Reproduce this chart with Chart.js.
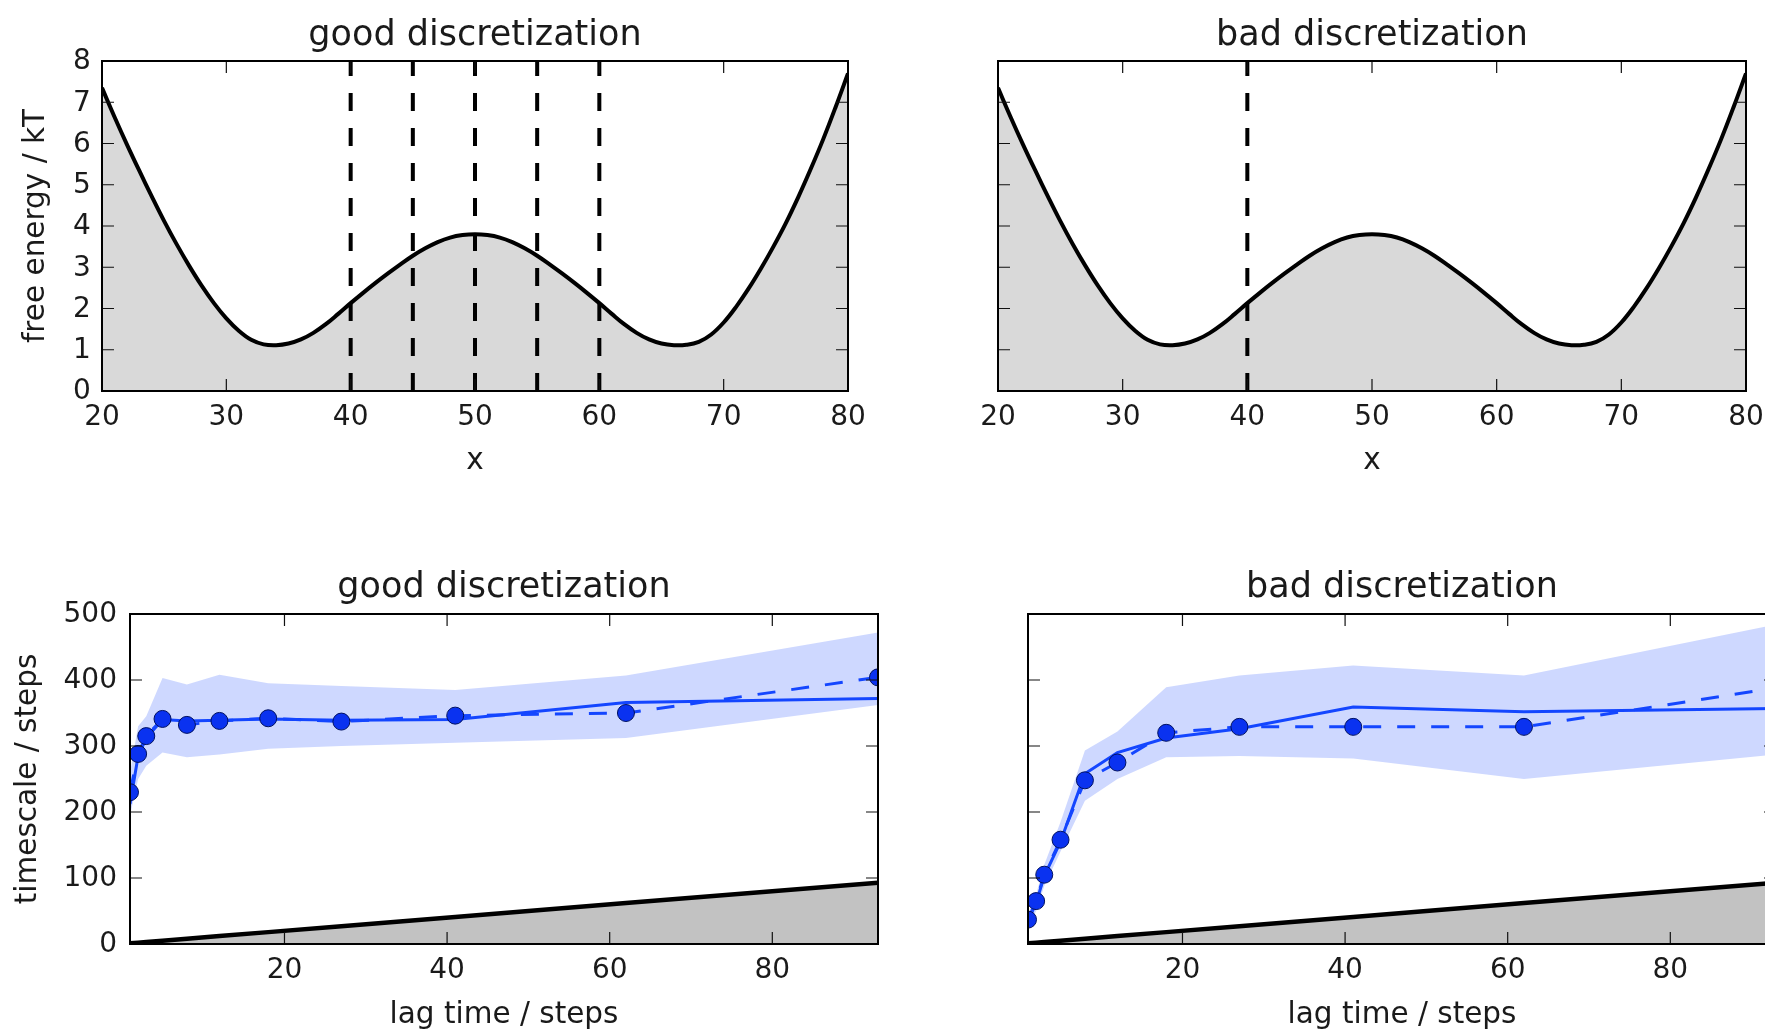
<!DOCTYPE html>
<html><head><meta charset="utf-8">
<script src="https://cdn.jsdelivr.net/npm/chart.js@4.4.1/dist/chart.umd.min.js"></script>
<style>
html,body{margin:0;padding:0;background:#fff;overflow:hidden;width:1765px;height:1029px;position:relative;}
canvas{position:absolute;display:block;}
</style></head><body>
<canvas id="c1" width="880" height="480" style="left:0;top:0"></canvas>
<canvas id="c2" width="900" height="480" style="left:880px;top:0"></canvas>
<canvas id="c3" width="900" height="560" style="left:0;top:480px"></canvas>
<canvas id="c4" width="900" height="560" style="left:900px;top:480px"></canvas>
<script>
// ---------- data ----------
const feX = [20,21,22,23,24,25,26,27,28,29,30,31,32,33,34,35,36,37,38,39,40,41,42,43,44,45,46,47,48,49,50,
             51,52,53,54,55,56,57,58,59,60,61,62,63,64,65,66,67,68,69,70,71,72,73,74,75,76,77,78,79,80];
const feY = [7.35,6.65,5.98,5.34,4.72,4.12,3.56,3.04,2.56,2.13,1.76,1.46,1.24,1.13,1.11,1.15,1.25,1.41,1.62,1.87,2.13,
             2.38,2.62,2.85,3.07,3.28,3.46,3.61,3.72,3.78,3.80,3.78,3.72,3.61,3.46,3.28,3.07,2.85,2.62,2.38,2.13,
             1.87,1.62,1.41,1.25,1.15,1.11,1.12,1.19,1.37,1.66,2.04,2.48,2.97,3.50,4.07,4.70,5.38,6.10,6.88,7.70];
const goodCuts = [40, 45, 50, 55, 60];
const badCuts = [40];
const feXTicks = [20, 30, 40, 50, 60, 70, 80];
const feYTicks = [0, 1, 2, 3, 4, 5, 6, 7, 8];

const lags = [1, 2, 3, 5, 8, 12, 18, 27, 41, 62, 93];
const goodEst   = [230, 288, 315, 341, 332, 338, 342, 337, 346, 350, 404];
const goodMean  = [212, 285, 312, 340, 338, 339, 341, 339, 340, 366, 372];
const goodUpper = [260, 330, 345, 403, 393, 408, 395, 391, 385, 407, 472];
const goodLower = [195, 250, 270, 290, 283, 287, 296, 300, 305, 312, 362];
const badEst    = [37, 65, 105, 158, 248, 275, 320, 329, 329, 329, 388];
const badMean   = [35, 62, 103, 155, 258, 290, 312, 326, 359, 352, 357];
const badUpper  = [45, 75, 120, 185, 293, 322, 389, 407, 422, 407, 484];
const badLower  = [25, 50, 88, 140, 217, 250, 283, 285, 281, 250, 287];
const lagXTicks = [20, 40, 60, 80];
const tsYTicks = [0, 100, 200, 300, 400, 500];

// ---------- style ----------
const FONT = "'DejaVu Sans', sans-serif";
const TXT = '#1a1a1a';
const BLUE = '#1446ff';
const DOT = '#0a32f0';

const framePlugin = {
  id: 'frame',
  afterDatasetsDraw(chart) {
    const {ctx, chartArea: a, scales: {x, y}} = chart;
    ctx.save();
    ctx.strokeStyle = '#111';
    ctx.lineWidth = 1.2;
    const L = 12;
    ctx.beginPath();
    x.ticks.forEach(t => {
      const p = x.getPixelForValue(t.value);
      ctx.moveTo(p, a.bottom); ctx.lineTo(p, a.bottom - L);
      ctx.moveTo(p, a.top); ctx.lineTo(p, a.top + L);
    });
    y.ticks.forEach(t => {
      const p = y.getPixelForValue(t.value);
      ctx.moveTo(a.left, p); ctx.lineTo(a.left + L, p);
      ctx.moveTo(a.right, p); ctx.lineTo(a.right - L, p);
    });
    ctx.stroke();
    ctx.strokeStyle = '#000';
    ctx.lineWidth = 2;
    ctx.strokeRect(a.left, a.top, a.right - a.left, a.bottom - a.top);
    ctx.restore();
  }
};

function pts(xs, ys) { return xs.map((v, i) => ({x: v, y: ys[i]})); }

function makeChart(id, o) {
  return new Chart(document.getElementById(id), {
    type: 'line',
    data: {datasets: o.datasets},
    plugins: [framePlugin],
    options: {
      responsive: false, animation: false, events: [],
      layout: {autoPadding: false, padding: {left: 0, right: o.padRight, top: 0, bottom: 0}},
      plugins: {
        legend: {display: false}, tooltip: {enabled: false},
        title: {display: true, text: o.title, fullSize: false, color: TXT,
                font: {family: FONT, size: 35, weight: 'normal', lineHeight: 1},
                padding: {top: o.titlePadTop, bottom: o.titlePadBottom}}
      },
      elements: {point: {radius: 0}},
      scales: {
        x: {
          type: 'linear', position: 'bottom', min: o.xMin, max: o.xMax,
          afterBuildTicks: s => { s.ticks = o.xTicks.map(v => ({value: v})); },
          afterFit: s => { s.height = o.xAxisH; },
          grid: {display: false, drawTicks: false}, border: {display: false},
          ticks: {color: TXT, font: {family: FONT, size: 28, lineHeight: 1}, padding: o.xTickPad,
                  maxRotation: 0, autoSkip: false},
          title: {display: true, text: o.xLabel, color: TXT,
                  font: {family: FONT, size: 29.5, lineHeight: 1}, padding: {top: 0, bottom: o.xLabelPadBottom}}
        },
        y: {
          type: 'linear', position: 'left', min: o.yMin, max: o.yMax,
          afterBuildTicks: s => { s.ticks = o.yTicks.map(v => ({value: v})); },
          afterFit: s => { s.width = o.yAxisW; },
          grid: {display: false, drawTicks: false}, border: {display: false},
          ticks: {display: o.yTickLabels, color: TXT, font: {family: FONT, size: 28, lineHeight: 1},
                  padding: o.yTickPad, labelOffset: 1},
          title: {display: !!o.yLabel, text: o.yLabel || '', color: TXT,
                  font: {family: FONT, size: 29.5, lineHeight: 1}, padding: {top: o.yLabelPadTop || 0, bottom: 0}}
        }
      }
    }
  });
}

function feDatasets(cuts) {
  const ds = cuts.map(c => ({
    data: [{x: c, y: feYTicks[0]}, {x: c, y: feYTicks[feYTicks.length - 1]}],
    borderColor: '#000', borderWidth: 4, borderDash: [18, 17], fill: false, order: 1
  }));
  ds.push({
    data: pts(feX, feY), borderColor: '#000', borderWidth: 4,
    backgroundColor: '#d9d9d9', fill: 'origin', tension: 0.4, order: 2
  });
  return ds;
}

function tsDatasets(est, mean, upper, lower) {
  return [
    {data: pts(lags, est), borderColor: BLUE, borderWidth: 3, borderDash: [18, 16], fill: false,
     pointRadius: 8.5, pointBackgroundColor: DOT, pointBorderColor: '#001060', pointBorderWidth: 1, order: 1},
    {data: pts(lags, mean), borderColor: BLUE, borderWidth: 3, fill: false, order: 2},
    {data: pts(lags, upper), borderWidth: 0, borderColor: 'rgba(0,0,0,0)', fill: '+1',
     backgroundColor: 'rgba(10,60,255,0.2)', order: 3},
    {data: pts(lags, lower), borderWidth: 0, borderColor: 'rgba(0,0,0,0)', fill: false, order: 4},
    {data: pts(lags, lags), borderColor: '#000', borderWidth: 4.5, backgroundColor: '#c2c2c2',
     fill: 'origin', order: 5}
  ];
}

const feCommon = {
  xMin: feXTicks[0], xMax: feXTicks[feXTicks.length - 1], xTicks: feXTicks,
  yMin: feYTicks[0], yMax: feYTicks[feYTicks.length - 1], yTicks: feYTicks,
  titlePadTop: 18, titlePadBottom: 8, xAxisH: 89, xTickPad: 13, xLabel: 'x', xLabelPadBottom: 3.75
};
const tsCommon = {
  xMin: lags[0], xMax: lags[lags.length - 1], xTicks: lagXTicks,
  yMin: tsYTicks[0], yMax: tsYTicks[tsYTicks.length - 1], yTicks: tsYTicks,
  titlePadTop: 90, titlePadBottom: 9, xAxisH: 96, xTickPad: 13, xLabel: 'lag time / steps', xLabelPadBottom: 10.25
};

makeChart('c1', Object.assign({}, feCommon, {
  title: 'good discretization', datasets: feDatasets(goodCuts), padRight: 32,
  yAxisW: 102, yTickLabels: true, yTickPad: 11.3, yLabel: 'free energy / kT', yLabelPadTop: 21.5
}));
makeChart('c2', Object.assign({}, feCommon, {
  title: 'bad discretization', datasets: feDatasets(badCuts), padRight: 34,
  yAxisW: 118, yTickLabels: false, yTickPad: 0
}));
makeChart('c3', Object.assign({}, tsCommon, {
  title: 'good discretization', datasets: tsDatasets(goodEst, goodMean, goodUpper, goodLower), padRight: 22,
  yAxisW: 130, yTickLabels: true, yTickPad: 13, yLabel: 'timescale / steps', yLabelPadTop: 13.5
}));
makeChart('c4', Object.assign({}, tsCommon, {
  title: 'bad discretization', datasets: tsDatasets(badEst, badMean, badUpper, badLower), padRight: 24,
  yAxisW: 128, yTickLabels: false, yTickPad: 0
}));
</script>
</body></html>
